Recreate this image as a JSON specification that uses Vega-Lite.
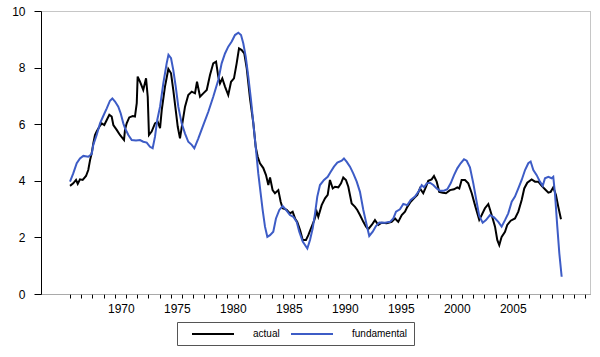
{
  "$schema": "https://vega.github.io/schema/vega-lite/v6.json",
  "autosize": "none",
  "width": 549,
  "height": 283,
  "padding": {"left": 41, "top": 11, "right": 10, "bottom": 63},
  "background": "white",
  "config": {
    "font": "Liberation Sans",
    "view": {"stroke": "#8c8c8c", "strokeDash": [1, 1]},
    "axis": {"grid": false, "labelColor": "#000000", "labelFontSize": 12, "labelFont": "Liberation Sans"}
  },
  "data": {"values": [
    {"s":"actual","t":1966.00,"v":3.82},{"s":"actual","t":1966.29,"v":3.91},{"s":"actual","t":1966.54,"v":4.03},{"s":"actual","t":1966.69,"v":3.89},{"s":"actual","t":1966.89,"v":4.05},{"s":"actual","t":1967.13,"v":4.03},{"s":"actual","t":1967.43,"v":4.17},{"s":"actual","t":1967.63,"v":4.38},{"s":"actual","t":1967.79,"v":4.73},{"s":"actual","t":1967.94,"v":4.98},{"s":"actual","t":1968.08,"v":5.32},{"s":"actual","t":1968.23,"v":5.62},{"s":"actual","t":1968.38,"v":5.74},{"s":"actual","t":1968.62,"v":5.91},{"s":"actual","t":1968.83,"v":6.03},{"s":"actual","t":1969.06,"v":5.97},{"s":"actual","t":1969.28,"v":6.15},{"s":"actual","t":1969.51,"v":6.33},{"s":"actual","t":1969.72,"v":6.27},{"s":"actual","t":1969.87,"v":5.97},{"s":"actual","t":1970.17,"v":5.80},{"s":"actual","t":1970.46,"v":5.62},{"s":"actual","t":1970.82,"v":5.44},{"s":"actual","t":1970.91,"v":5.80},{"s":"actual","t":1971.06,"v":6.03},{"s":"actual","t":1971.29,"v":6.24},{"s":"actual","t":1971.60,"v":6.29},{"s":"actual","t":1971.80,"v":6.27},{"s":"actual","t":1971.96,"v":6.74},{"s":"actual","t":1972.04,"v":7.68},{"s":"actual","t":1972.25,"v":7.50},{"s":"actual","t":1972.54,"v":7.21},{"s":"actual","t":1972.79,"v":7.62},{"s":"actual","t":1972.94,"v":6.97},{"s":"actual","t":1973.05,"v":5.62},{"s":"actual","t":1973.29,"v":5.74},{"s":"actual","t":1973.59,"v":6.03},{"s":"actual","t":1973.83,"v":6.09},{"s":"actual","t":1974.04,"v":5.86},{"s":"actual","t":1974.19,"v":6.50},{"s":"actual","t":1974.48,"v":7.33},{"s":"actual","t":1974.78,"v":7.95},{"s":"actual","t":1975.02,"v":7.80},{"s":"actual","t":1975.22,"v":7.21},{"s":"actual","t":1975.44,"v":6.50},{"s":"actual","t":1975.62,"v":5.91},{"s":"actual","t":1975.82,"v":5.50},{"s":"actual","t":1976.03,"v":6.03},{"s":"actual","t":1976.27,"v":6.62},{"s":"actual","t":1976.56,"v":7.03},{"s":"actual","t":1976.87,"v":7.15},{"s":"actual","t":1977.16,"v":7.09},{"s":"actual","t":1977.34,"v":7.50},{"s":"actual","t":1977.61,"v":6.97},{"s":"actual","t":1977.90,"v":7.09},{"s":"actual","t":1978.21,"v":7.21},{"s":"actual","t":1978.50,"v":7.74},{"s":"actual","t":1978.79,"v":8.15},{"s":"actual","t":1979.04,"v":8.21},{"s":"actual","t":1979.24,"v":7.68},{"s":"actual","t":1979.39,"v":7.44},{"s":"actual","t":1979.60,"v":7.62},{"s":"actual","t":1979.84,"v":7.33},{"s":"actual","t":1980.13,"v":7.03},{"s":"actual","t":1980.38,"v":7.50},{"s":"actual","t":1980.64,"v":7.62},{"s":"actual","t":1980.88,"v":8.15},{"s":"actual","t":1981.09,"v":8.68},{"s":"actual","t":1981.33,"v":8.62},{"s":"actual","t":1981.56,"v":8.50},{"s":"actual","t":1981.78,"v":7.97},{"s":"actual","t":1982.07,"v":6.91},{"s":"actual","t":1982.37,"v":6.03},{"s":"actual","t":1982.58,"v":5.20},{"s":"actual","t":1982.76,"v":4.85},{"s":"actual","t":1982.96,"v":4.62},{"s":"actual","t":1983.26,"v":4.45},{"s":"actual","t":1983.50,"v":4.20},{"s":"actual","t":1983.71,"v":3.85},{"s":"actual","t":1983.86,"v":4.12},{"s":"actual","t":1984.09,"v":3.67},{"s":"actual","t":1984.30,"v":3.56},{"s":"actual","t":1984.60,"v":3.67},{"s":"actual","t":1984.81,"v":3.26},{"s":"actual","t":1984.99,"v":3.03},{"s":"actual","t":1985.35,"v":2.97},{"s":"actual","t":1985.64,"v":2.85},{"s":"actual","t":1985.88,"v":2.91},{"s":"actual","t":1986.09,"v":2.67},{"s":"actual","t":1986.29,"v":2.55},{"s":"actual","t":1986.54,"v":2.26},{"s":"actual","t":1986.78,"v":1.91},{"s":"actual","t":1987.07,"v":1.91},{"s":"actual","t":1987.28,"v":2.08},{"s":"actual","t":1987.58,"v":2.38},{"s":"actual","t":1987.81,"v":2.61},{"s":"actual","t":1988.03,"v":2.91},{"s":"actual","t":1988.17,"v":2.73},{"s":"actual","t":1988.47,"v":3.14},{"s":"actual","t":1988.77,"v":3.38},{"s":"actual","t":1989.01,"v":3.50},{"s":"actual","t":1989.21,"v":4.03},{"s":"actual","t":1989.46,"v":3.73},{"s":"actual","t":1989.66,"v":3.79},{"s":"actual","t":1989.96,"v":3.77},{"s":"actual","t":1990.20,"v":3.91},{"s":"actual","t":1990.40,"v":4.12},{"s":"actual","t":1990.64,"v":4.03},{"s":"actual","t":1990.85,"v":3.79},{"s":"actual","t":1991.15,"v":3.20},{"s":"actual","t":1991.45,"v":3.08},{"s":"actual","t":1991.65,"v":2.97},{"s":"actual","t":1991.89,"v":2.79},{"s":"actual","t":1992.19,"v":2.55},{"s":"actual","t":1992.43,"v":2.38},{"s":"actual","t":1992.63,"v":2.29},{"s":"actual","t":1992.94,"v":2.44},{"s":"actual","t":1993.23,"v":2.61},{"s":"actual","t":1993.53,"v":2.44},{"s":"actual","t":1993.83,"v":2.52},{"s":"actual","t":1994.28,"v":2.50},{"s":"actual","t":1994.72,"v":2.55},{"s":"actual","t":1995.02,"v":2.67},{"s":"actual","t":1995.31,"v":2.55},{"s":"actual","t":1995.62,"v":2.79},{"s":"actual","t":1995.91,"v":2.91},{"s":"actual","t":1996.12,"v":3.08},{"s":"actual","t":1996.42,"v":3.26},{"s":"actual","t":1996.71,"v":3.38},{"s":"actual","t":1997.01,"v":3.50},{"s":"actual","t":1997.25,"v":3.73},{"s":"actual","t":1997.54,"v":3.56},{"s":"actual","t":1997.79,"v":3.79},{"s":"actual","t":1997.99,"v":4.00},{"s":"actual","t":1998.29,"v":4.05},{"s":"actual","t":1998.50,"v":4.17},{"s":"actual","t":1998.74,"v":3.97},{"s":"actual","t":1998.97,"v":3.61},{"s":"actual","t":1999.28,"v":3.58},{"s":"actual","t":1999.57,"v":3.56},{"s":"actual","t":1999.93,"v":3.67},{"s":"actual","t":2000.29,"v":3.70},{"s":"actual","t":2000.58,"v":3.77},{"s":"actual","t":2000.76,"v":3.73},{"s":"actual","t":2000.97,"v":4.03},{"s":"actual","t":2001.27,"v":4.03},{"s":"actual","t":2001.56,"v":3.91},{"s":"actual","t":2001.87,"v":3.56},{"s":"actual","t":2002.16,"v":3.14},{"s":"actual","t":2002.54,"v":2.62},{"s":"actual","t":2002.76,"v":2.79},{"s":"actual","t":2003.05,"v":3.03},{"s":"actual","t":2003.35,"v":3.18},{"s":"actual","t":2003.65,"v":2.79},{"s":"actual","t":2003.95,"v":2.38},{"s":"actual","t":2004.15,"v":1.91},{"s":"actual","t":2004.33,"v":1.73},{"s":"actual","t":2004.54,"v":2.02},{"s":"actual","t":2004.84,"v":2.20},{"s":"actual","t":2005.04,"v":2.44},{"s":"actual","t":2005.35,"v":2.59},{"s":"actual","t":2005.73,"v":2.67},{"s":"actual","t":2006.03,"v":2.91},{"s":"actual","t":2006.33,"v":3.32},{"s":"actual","t":2006.56,"v":3.73},{"s":"actual","t":2006.83,"v":3.93},{"s":"actual","t":2007.22,"v":4.05},{"s":"actual","t":2007.52,"v":3.97},{"s":"actual","t":2007.81,"v":3.97},{"s":"actual","t":2008.12,"v":3.82},{"s":"actual","t":2008.41,"v":3.70},{"s":"actual","t":2008.71,"v":3.58},{"s":"actual","t":2008.92,"v":3.61},{"s":"actual","t":2009.15,"v":3.77},{"s":"actual","t":2009.39,"v":3.50},{"s":"actual","t":2009.60,"v":3.08},{"s":"actual","t":2009.84,"v":2.64},
    {"s":"fundamental","t":1966.00,"v":3.97},{"s":"fundamental","t":1966.29,"v":4.26},{"s":"fundamental","t":1966.60,"v":4.62},{"s":"fundamental","t":1966.89,"v":4.79},{"s":"fundamental","t":1967.19,"v":4.88},{"s":"fundamental","t":1967.63,"v":4.85},{"s":"fundamental","t":1967.94,"v":4.95},{"s":"fundamental","t":1968.08,"v":5.27},{"s":"fundamental","t":1968.38,"v":5.62},{"s":"fundamental","t":1968.68,"v":6.03},{"s":"fundamental","t":1968.97,"v":6.29},{"s":"fundamental","t":1969.28,"v":6.56},{"s":"fundamental","t":1969.57,"v":6.83},{"s":"fundamental","t":1969.78,"v":6.91},{"s":"fundamental","t":1970.02,"v":6.80},{"s":"fundamental","t":1970.31,"v":6.62},{"s":"fundamental","t":1970.53,"v":6.38},{"s":"fundamental","t":1970.76,"v":6.03},{"s":"fundamental","t":1970.91,"v":5.86},{"s":"fundamental","t":1971.21,"v":5.62},{"s":"fundamental","t":1971.51,"v":5.44},{"s":"fundamental","t":1971.89,"v":5.42},{"s":"fundamental","t":1972.25,"v":5.44},{"s":"fundamental","t":1972.54,"v":5.38},{"s":"fundamental","t":1972.85,"v":5.35},{"s":"fundamental","t":1973.14,"v":5.20},{"s":"fundamental","t":1973.38,"v":5.15},{"s":"fundamental","t":1973.59,"v":5.56},{"s":"fundamental","t":1973.79,"v":6.15},{"s":"fundamental","t":1974.04,"v":6.62},{"s":"fundamental","t":1974.33,"v":7.44},{"s":"fundamental","t":1974.63,"v":8.15},{"s":"fundamental","t":1974.79,"v":8.45},{"s":"fundamental","t":1975.02,"v":8.33},{"s":"fundamental","t":1975.22,"v":7.92},{"s":"fundamental","t":1975.44,"v":7.33},{"s":"fundamental","t":1975.67,"v":6.62},{"s":"fundamental","t":1975.97,"v":6.03},{"s":"fundamental","t":1976.27,"v":5.67},{"s":"fundamental","t":1976.56,"v":5.38},{"s":"fundamental","t":1976.87,"v":5.27},{"s":"fundamental","t":1977.10,"v":5.15},{"s":"fundamental","t":1977.46,"v":5.50},{"s":"fundamental","t":1977.90,"v":5.97},{"s":"fundamental","t":1978.35,"v":6.44},{"s":"fundamental","t":1978.79,"v":6.97},{"s":"fundamental","t":1979.24,"v":7.56},{"s":"fundamental","t":1979.54,"v":8.15},{"s":"fundamental","t":1979.84,"v":8.50},{"s":"fundamental","t":1980.13,"v":8.74},{"s":"fundamental","t":1980.44,"v":8.92},{"s":"fundamental","t":1980.73,"v":9.15},{"s":"fundamental","t":1981.03,"v":9.23},{"s":"fundamental","t":1981.27,"v":9.15},{"s":"fundamental","t":1981.47,"v":8.86},{"s":"fundamental","t":1981.69,"v":8.39},{"s":"fundamental","t":1981.92,"v":7.68},{"s":"fundamental","t":1982.16,"v":6.86},{"s":"fundamental","t":1982.37,"v":6.03},{"s":"fundamental","t":1982.58,"v":5.20},{"s":"fundamental","t":1982.81,"v":4.26},{"s":"fundamental","t":1983.01,"v":3.60},{"s":"fundamental","t":1983.20,"v":2.97},{"s":"fundamental","t":1983.41,"v":2.38},{"s":"fundamental","t":1983.62,"v":2.02},{"s":"fundamental","t":1983.86,"v":2.08},{"s":"fundamental","t":1984.15,"v":2.20},{"s":"fundamental","t":1984.39,"v":2.67},{"s":"fundamental","t":1984.69,"v":2.97},{"s":"fundamental","t":1984.99,"v":3.11},{"s":"fundamental","t":1985.29,"v":2.97},{"s":"fundamental","t":1985.64,"v":2.79},{"s":"fundamental","t":1985.94,"v":2.73},{"s":"fundamental","t":1986.24,"v":2.55},{"s":"fundamental","t":1986.47,"v":2.20},{"s":"fundamental","t":1986.78,"v":1.85},{"s":"fundamental","t":1987.19,"v":1.61},{"s":"fundamental","t":1987.43,"v":1.91},{"s":"fundamental","t":1987.67,"v":2.32},{"s":"fundamental","t":1987.88,"v":2.85},{"s":"fundamental","t":1988.08,"v":3.44},{"s":"fundamental","t":1988.32,"v":3.85},{"s":"fundamental","t":1988.68,"v":4.03},{"s":"fundamental","t":1989.01,"v":4.14},{"s":"fundamental","t":1989.28,"v":4.32},{"s":"fundamental","t":1989.57,"v":4.50},{"s":"fundamental","t":1989.87,"v":4.64},{"s":"fundamental","t":1990.26,"v":4.71},{"s":"fundamental","t":1990.46,"v":4.79},{"s":"fundamental","t":1990.71,"v":4.67},{"s":"fundamental","t":1991.00,"v":4.50},{"s":"fundamental","t":1991.29,"v":4.26},{"s":"fundamental","t":1991.60,"v":3.97},{"s":"fundamental","t":1991.89,"v":3.61},{"s":"fundamental","t":1992.19,"v":2.97},{"s":"fundamental","t":1992.49,"v":2.44},{"s":"fundamental","t":1992.72,"v":2.05},{"s":"fundamental","t":1993.03,"v":2.20},{"s":"fundamental","t":1993.32,"v":2.40},{"s":"fundamental","t":1993.62,"v":2.53},{"s":"fundamental","t":1994.13,"v":2.52},{"s":"fundamental","t":1994.57,"v":2.55},{"s":"fundamental","t":1994.87,"v":2.67},{"s":"fundamental","t":1995.11,"v":2.91},{"s":"fundamental","t":1995.46,"v":2.99},{"s":"fundamental","t":1995.76,"v":3.18},{"s":"fundamental","t":1996.12,"v":3.14},{"s":"fundamental","t":1996.42,"v":3.32},{"s":"fundamental","t":1996.80,"v":3.44},{"s":"fundamental","t":1997.10,"v":3.61},{"s":"fundamental","t":1997.40,"v":3.85},{"s":"fundamental","t":1997.61,"v":3.77},{"s":"fundamental","t":1997.85,"v":3.91},{"s":"fundamental","t":1998.14,"v":3.93},{"s":"fundamental","t":1998.44,"v":3.85},{"s":"fundamental","t":1998.74,"v":3.73},{"s":"fundamental","t":1999.04,"v":3.65},{"s":"fundamental","t":1999.39,"v":3.65},{"s":"fundamental","t":1999.69,"v":3.70},{"s":"fundamental","t":1999.99,"v":3.91},{"s":"fundamental","t":2000.29,"v":4.20},{"s":"fundamental","t":2000.58,"v":4.44},{"s":"fundamental","t":2000.88,"v":4.62},{"s":"fundamental","t":2001.18,"v":4.76},{"s":"fundamental","t":2001.42,"v":4.71},{"s":"fundamental","t":2001.71,"v":4.48},{"s":"fundamental","t":2002.01,"v":3.91},{"s":"fundamental","t":2002.31,"v":3.25},{"s":"fundamental","t":2002.54,"v":2.76},{"s":"fundamental","t":2002.85,"v":2.52},{"s":"fundamental","t":2003.14,"v":2.61},{"s":"fundamental","t":2003.50,"v":2.79},{"s":"fundamental","t":2003.86,"v":2.71},{"s":"fundamental","t":2004.24,"v":2.55},{"s":"fundamental","t":2004.54,"v":2.38},{"s":"fundamental","t":2004.84,"v":2.61},{"s":"fundamental","t":2005.13,"v":2.85},{"s":"fundamental","t":2005.44,"v":3.26},{"s":"fundamental","t":2005.73,"v":3.44},{"s":"fundamental","t":2006.03,"v":3.73},{"s":"fundamental","t":2006.33,"v":4.03},{"s":"fundamental","t":2006.63,"v":4.38},{"s":"fundamental","t":2006.92,"v":4.62},{"s":"fundamental","t":2007.13,"v":4.68},{"s":"fundamental","t":2007.37,"v":4.38},{"s":"fundamental","t":2007.67,"v":4.20},{"s":"fundamental","t":2007.96,"v":3.97},{"s":"fundamental","t":2008.21,"v":3.82},{"s":"fundamental","t":2008.41,"v":4.09},{"s":"fundamental","t":2008.71,"v":4.14},{"s":"fundamental","t":2009.01,"v":4.09},{"s":"fundamental","t":2009.15,"v":4.14},{"s":"fundamental","t":2009.30,"v":3.56},{"s":"fundamental","t":2009.51,"v":2.38},{"s":"fundamental","t":2009.69,"v":1.44},{"s":"fundamental","t":2009.90,"v":0.61}
  ]},
  "mark": {"type": "line", "strokeWidth": 2, "interpolate": "linear"},
  "encoding": {
    "x": {
      "field": "t", "type": "quantitative",
      "scale": {"domain": [1963.41, 2012.43], "nice": false, "zero": false},
      "axis": {
        "title": null,
        "values": [1966,1967,1968,1969,1970,1971,1972,1973,1974,1975,1976,1977,1978,1979,1980,1981,1982,1983,1984,1985,1986,1987,1988,1989,1990,1991,1992,1993,1994,1995,1996,1997,1998,1999,2000,2001,2002,2003,2004,2005,2006,2007,2008,2009,2010,2011,2012],
        "labelExpr": "(datum.value % 5 == 0 && datum.value >= 1970 && datum.value <= 2005) ? toString(datum.value) : ''",
        "labelOffset": 6,
        "labelOverlap": false,
        "labelFlush": false,
        "labelPadding": 5,
        "tickSize": 4,
        "tickColor": "#000000",
        "domainColor": "#8c8c8c",
        "domainDash": [1, 1]
      }
    },
    "y": {
      "field": "v", "type": "quantitative",
      "scale": {"domain": [0, 10], "nice": false},
      "axis": {
        "title": null,
        "values": [0, 2, 4, 6, 8, 10],
        "tickSize": 7,
        "labelPadding": 9,
        "tickColor": "#000000",
        "domainColor": "#000000"
      }
    },
    "color": {
      "field": "s", "type": "nominal",
      "scale": {"domain": ["actual", "fundamental"], "range": ["#000000", "#3d5cc6"]},
      "legend": {
        "title": null,
        "orient": "none",
        "legendX": 136,
        "legendY": 311,
        "direction": "horizontal",
        "symbolType": "M-4.2,0H4.2",
        "symbolSize": 100,
        "symbolStrokeWidth": 2,
        "symbolOffset": 24,
        "labelFontSize": 10,
        "labelColor": "#000000",
        "labelOffset": 34,
        "labelExpr": "datum.label == 'fundamental' ? 'fundamental\u00a0\u00a0\u00a0\u00a0' : datum.label",
        "columnPadding": 2,
        "padding": 6,
        "strokeColor": "#555555",
        "fillColor": "white"
      }
    }
  }
}
